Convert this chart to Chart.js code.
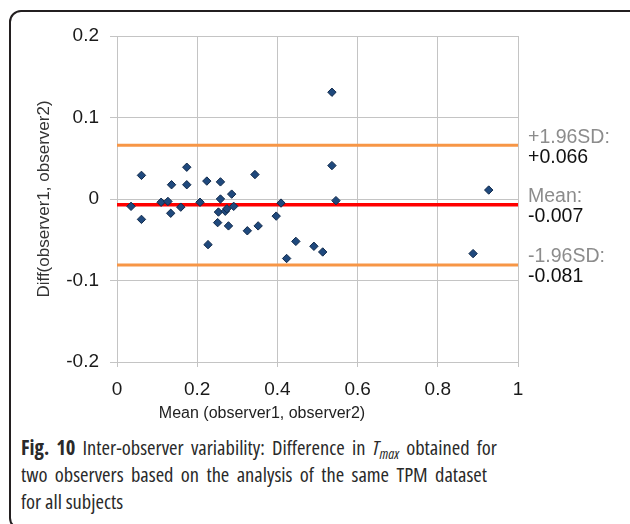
<!DOCTYPE html>
<html>
<head>
<meta charset="utf-8">
<script src="https://cdn.jsdelivr.net/npm/chart.js@4.4.1/dist/chart.umd.min.js"></script>
<style>
  html, body { margin: 0; padding: 0; background: #fff; width: 630px; height: 524px; overflow: hidden; }
  #frame { position: absolute; left: 9px; top: 10px; width: 660px; height: 520px; border: 2px solid #231f20; border-radius: 12px; box-sizing: border-box; }
  #wrap { position: absolute; left: 0; top: 0; width: 630px; height: 430px; }
  #caption { position: absolute; left: 21px; top: 434px; font-family: "Open Sans", "Noto Sans", sans-serif; font-stretch: 85%; font-weight: 400; font-size: 20.5px; line-height: 27px; color: #2a2a2a; }
  #caption b { font-weight: 700; }
  #caption .ln { display: block; white-space: nowrap; text-align: justify; text-align-last: justify; }
  #caption .ln.last { text-align-last: left; }
  #caption sub { font-size: 70%; vertical-align: -0.25em; line-height: 0; }
</style>
</head>
<body>
<div id="frame"></div>
<div id="wrap"><canvas id="c" width="630" height="430"></canvas></div>
<div id="caption">
  <span class="ln" style="width:476px"><b>Fig. 10</b> Inter-observer variability: Difference in <i>T<sub>max</sub></i> obtained for</span>
  <span class="ln" style="width:466px">two observers based on the analysis of the same TPM dataset</span>
  <span class="ln last">for all subjects</span>
</div>
<script>
// Bland-Altman data: mean of the two observers vs. their difference
const meanX = [0.035, 0.061, 0.061, 0.110, 0.127, 0.136, 0.134, 0.159, 0.174, 0.174,
               0.207, 0.224, 0.227, 0.258, 0.344, 0.258, 0.286, 0.253, 0.270, 0.274,
               0.291, 0.251, 0.278, 0.325, 0.352, 0.409, 0.397, 0.446, 0.491, 0.423,
               0.513, 0.536, 0.546, 0.927, 0.888, 0.536];
const diffY = [-0.009, 0.029, -0.025, -0.004, -0.003, 0.0175, -0.0175, -0.010, 0.039, 0.0175,
               -0.004, 0.022, -0.056, 0.021, 0.030, 0.000, 0.006, -0.016, -0.015, -0.012,
               -0.009, -0.029, -0.033, -0.039, -0.033, -0.005, -0.021, -0.052, -0.058, -0.073,
               -0.065, 0.041, -0.002, 0.011, -0.067, 0.131];

// Limits of agreement and the mean difference
const limitNames = ['+1.96SD:', 'Mean:', '-1.96SD:'];
const limitValues = [0.066, -0.007, -0.081];

// Axis ticks
const xTicks = [0, 0.2, 0.4, 0.6, 0.8, 1];
const xTickLabels = ['0', '0.2', '0.4', '0.6', '0.8', '1'];
const yTicks = [-0.2, -0.1, 0, 0.1, 0.2];
const yTickLabels = ['-0.2', '-0.1', '0', '0.1', '0.2'];

const xTitle = 'Mean (observer1, observer2)';
const yTitle = 'Diff(observer1, observer2)';

const FONT = '"Liberation Sans", Arial, sans-serif';
const limitColors = ['#F79646', '#FF0000', '#F79646'];
const limitWidths = [3, 3.5, 3];

const fmtLimit = v => (v > 0 ? '+' : '') + v.toFixed(3);

const limitDatasets = limitValues.map((v, i) => ({
  type: 'line',
  data: [{ x: xTicks[0], y: v }, { x: xTicks[xTicks.length - 1], y: v }],
  borderColor: limitColors[i],
  borderWidth: limitWidths[i],
  pointRadius: 0,
  fill: false,
  order: 2
}));

const sideLabels = {
  id: 'sideLabels',
  afterDraw(chart) {
    const { ctx, scales: { x, y } } = chart;
    ctx.save();
    ctx.textBaseline = 'middle';
    ctx.textAlign = 'left';
    ctx.font = '19.5px ' + FONT;
    limitValues.forEach((v, i) => {
      const py = y.getPixelForValue(v);
      ctx.fillStyle = '#8c8c8c';
      ctx.fillText(limitNames[i], x.right + 10, py - 8);
      ctx.fillStyle = '#111';
      ctx.fillText(fmtLimit(v), x.right + 10, py + 12);
    });
    ctx.font = '16px ' + FONT;
    ctx.fillStyle = '#222';
    ctx.textAlign = 'center';
    ctx.fillText(xTitle, 262, 414);
    ctx.restore();
  }
};

new Chart(document.getElementById('c'), {
  type: 'scatter',
  data: {
    datasets: [{
      type: 'scatter',
      data: meanX.map((m, i) => ({ x: m, y: diffY[i] })),
      pointStyle: 'rectRot',
      radius: 4.2,
      backgroundColor: '#1F497D',
      borderColor: '#10294a',
      borderWidth: 1,
      order: 1
    }, ...limitDatasets]
  },
  options: {
    responsive: false,
    animation: false,
    devicePixelRatio: 1,
    layout: { padding: { left: 0, top: 36, right: 112, bottom: 0 } },
    plugins: { legend: { display: false }, tooltip: { enabled: false } },
    scales: {
      x: {
        type: 'linear',
        min: 0, max: 1,
        afterBuildTicks: s => { s.ticks = xTicks.map(v => ({ value: v })); },
        afterFit: s => { s.height = 68; },
        grid: { color: '#c4c4c4', tickLength: 5, drawTicks: true },
        border: { color: '#c4c4c4' },
        ticks: {
          font: { family: FONT, size: 19 },
          color: '#1a1a1a',
          padding: 11,
          maxRotation: 0,
          callback: (v, i) => xTickLabels[i]
        }
      },
      y: {
        type: 'linear',
        min: -0.2, max: 0.2,
        afterBuildTicks: s => { s.ticks = yTicks.map(v => ({ value: v })); },
        afterFit: s => { s.width = 117; },
        grid: { color: '#c4c4c4', tickLength: 7, drawTicks: true },
        border: { color: '#c4c4c4' },
        ticks: {
          font: { family: FONT, size: 19 },
          color: '#1a1a1a',
          padding: 11,
          callback: (v, i) => yTickLabels[i]
        },
        title: {
          display: true,
          text: yTitle,
          font: { family: FONT, size: 17 },
          color: '#333',
          padding: { top: 34, bottom: 0 }
        }
      }
    }
  },
  plugins: [sideLabels]
});
</script>
</body>
</html>
